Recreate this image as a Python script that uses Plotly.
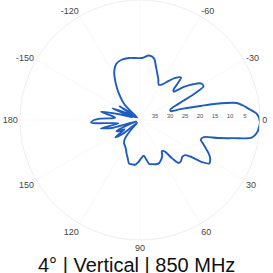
import plotly.graph_objects as go

# Azimuth (deg, clockwise from right) and normalised gain (dB)
angles = [-180, -178, -175, -172, -168, -164, -160, -157, -153, -149, -146, -142, -139,
          -135, -129, -124, -118, -113, -107, -100, -94, -88, -82, -77, -74, -70, -66,
          -62, -58, -54, -50, -46, -44, -42, -40, -37, -34, -31, -28, -26, -24, -22,
          -19, -16, -15, -13, -12, -10, -8, -6, -3, 1, 3, 6, 9, 11, 13, 15, 18, 21,
          24, 27, 30, 32, 34, 36, 38, 41, 45, 48, 50, 52, 55, 58, 62, 66, 70, 74, 78,
          81, 84, 88, 92, 96, 100, 104, 108, 112, 116, 120, 125, 129, 133, 137, 141,
          145, 149, 152, 155, 158, 161, 164, 168, 171, 174, 177, 180]
gain_db = [-24.7, -26.7, -31.7, -30.7, -26.7, -33.3, -37.3, -30.0, -35.0, -38.3, -31.7, -36.7, -38.7,
           -32.7, -29.0, -25.7, -21.7, -19.7, -19.0, -19.0, -19.3, -19.3, -18.3, -19.0, -21.0, -23.3, -25.0,
           -26.7, -26.0, -24.0, -21.7, -20.3, -22.7, -25.0, -25.3, -21.7, -18.7, -16.3, -16.0, -19.3, -24.0, -27.3,
           -29.3, -29.3, -26.0, -19.3, -14.0, -7.3, -5.3, -3.7, -1.0, 0.0, -0.2, -0.7, -2.3, -8.3, -13.3, -18.0, -18.7, -17.3,
           -15.7, -14.0, -13.0, -12.7, -14.7, -19.3, -21.0, -21.3, -20.7, -20.7, -23.3, -26.7, -27.3, -26.0, -25.0, -24.3, -24.3, -24.7, -25.0,
           -26.7, -28.0, -27.3, -26.0, -25.0, -25.0, -25.0, -26.7, -28.0, -29.3, -30.0, -30.7, -32.0, -36.0, -38.7, -32.7,
           -30.0, -34.0, -32.0, -31.3, -36.7, -38.7, -30.7, -26.7, -32.7, -30.0, -23.7, -24.7]

radial_ticks = [-35, -30, -25, -20, -15, -10, -5]
radial_labels = ["35", "30", "25", "20", "15", "10", "5"]
angle_ticks = [0, 30, 60, 90, 120, 150, 180, 210, 240, 270, 300, 330]
angle_labels = ["0", "30", "60", "90", "120", "150", "180", "-150", "-120", "-90", "-60", "-30"]
title_text = "4° | Vertical | 850 MHz"

fig = go.Figure()
fig.add_trace(go.Scatterpolar(
    theta=angles, r=gain_db, mode="lines",
    line=dict(color="#1f5cc2", width=1.9, shape="spline", smoothing=0.8),
    hoverinfo="skip", showlegend=False,
))

fig.update_layout(
    width=273, height=273,
    margin=dict(l=0, r=0, t=0, b=0),
    paper_bgcolor="white",
    polar=dict(
        domain=dict(x=[20/273, 260/273], y=[33/273, 1.0]),
        bgcolor="white",
        angularaxis=dict(
            direction="clockwise", rotation=0,
            tickmode="array", tickvals=angle_ticks, ticktext=angle_labels,
            tickfont=dict(family="Arial", size=9, color="#444"),
            ticks="", showline=True, linecolor="#eeeeee", linewidth=1,
            showgrid=True, gridcolor="#f8f8f8", gridwidth=1,
        ),
        radialaxis=dict(
            range=[-40, 0], angle=0, side="counterclockwise",
            tickmode="array", tickvals=radial_ticks, ticktext=radial_labels,
            tickfont=dict(family="Arial", size=6, color="#555"),
            ticks="", showline=False, showgrid=False,
        ),
    ),
    annotations=[dict(
        text=title_text, x=0.5, y=(273-265)/273, xref="paper", yref="paper",
        xanchor="center", yanchor="middle", showarrow=False,
        font=dict(family="Arial", size=20, color="#111"),
    )],
)

fig.write_html("out.html", config={"displayModeBar": False},
               post_script="document.body.style.margin='0px';")
